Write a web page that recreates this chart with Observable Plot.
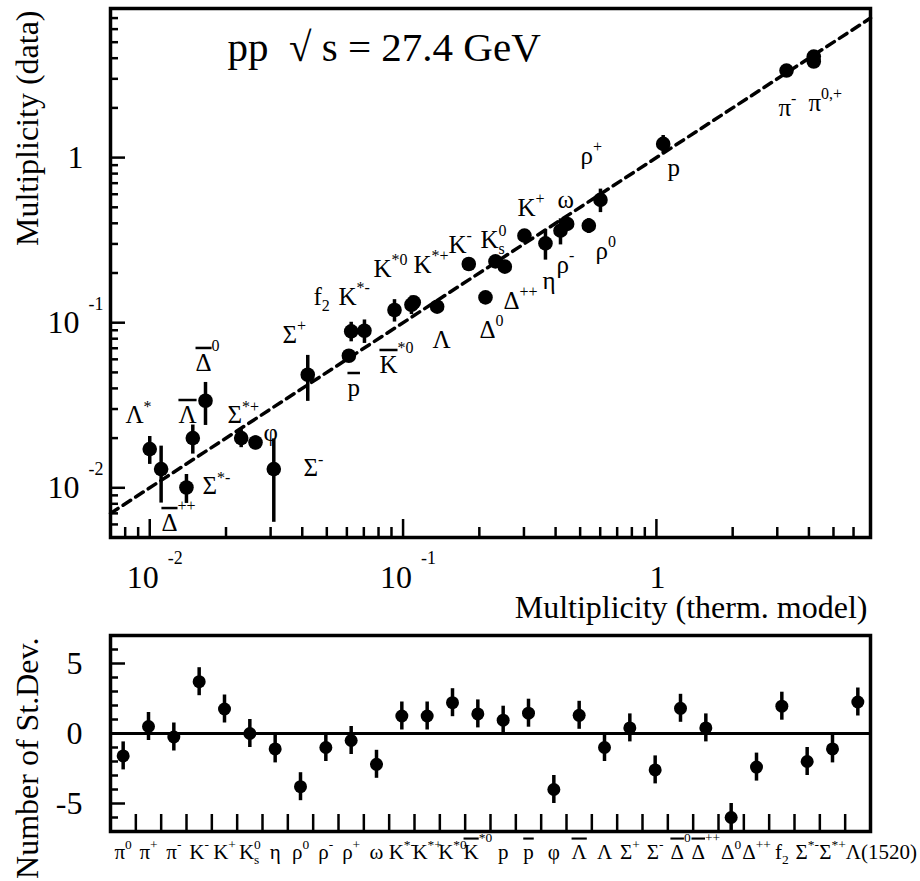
<!DOCTYPE html>
<html><head><meta charset="utf-8">
<script src="https://cdn.jsdelivr.net/npm/d3@7"></script>
<script src="https://cdn.jsdelivr.net/npm/@observablehq/plot@0.6"></script>
<style>
html,body{margin:0;padding:0;background:#fff;overflow:hidden}
#chart{width:920px;height:881px;position:relative}
#chart svg{display:block}
</style></head><body><div id="chart"></div>
<script>
// ---------- data ----------
const categories = ["π^{0}","π^{+}","π^{-}","K^{-}","K^{+}","K^{0}_{s}","η","ρ^{0}","ρ^{-}","ρ^{+}","ω","K^{*-}","K^{*+}","K^{*0}","K\u0304^{*0}","p","p\u0304","φ","Λ\u0304","Λ","Σ^{+}","Σ^{-}","Δ\u0304^{0}","Δ\u0304^{++}","Δ^{0}","Δ^{++}","f_{2}","Σ^{*-}","Σ^{*+}","Λ(1520)"];
const thermal = [4.18,4.18,3.263,0.1817,0.3014,0.2316,0.3648,0.5409,0.4182,0.6014,0.4444,0.0925,0.1079,0.1102,0.0704,1.0636,0.0611,0.02615,0.01479,0.1363,0.04205,0.03088,0.0166,0.01109,0.2115,0.2521,0.0624,0.01396,0.02296,0.0100];
const measured = [3.82,4.09,3.367,0.2268,0.3367,0.2352,0.3023,0.387,0.3609,0.5543,0.3964,0.1194,0.1285,0.1327,0.0894,1.2106,0.0631,0.01881,0.0200,0.125,0.04838,0.01298,0.03366,0.01298,0.1423,0.2185,0.0886,0.01004,0.0200,0.01716];
const measErr = [0.15,0.15,0.2,0.012,0.02,0.01,0.063,0.04,0.065,0.09,0.022,0.0185,0.0165,0.0102,0.0145,0.15,0.0014,0.0018,0.004,0.0113,0.015,0.0068,0.0098,0.0049,0.0115,0.014,0.012,0.002,0.0025,0.0033];
const deviation = [-1.6,0.5,-0.25,3.7,1.75,0,-1.1,-3.8,-1.0,-0.5,-2.2,1.25,1.25,2.2,1.4,0.95,1.45,-4.0,1.3,-1.0,0.4,-2.6,1.8,0.4,-6.0,-2.4,1.95,-2.0,-1.1,2.25];
const devErr = 1;

const labelText = ["Λ^{*}","Δ\u0304^{++}","Σ^{*-}","Λ\u0304","Δ\u0304^{0}","Σ^{*+}","φ","Σ^{-}","Σ^{+}","p\u0304","f_{2}","K^{*-}","K^{*0}","K^{*+}","K\u0304^{*0}","Λ","Δ^{0}","Δ^{++}","η","ρ^{-}","ρ^{0}","K^{-}","K^{0}_{s}","K^{+}","ω","ρ^{+}","p","π^{-}","π^{0,+}"];
const labelX = [0.00802,0.01112,0.01615,0.01298,0.01516,0.02027,0.02812,0.04045,0.03342,0.06032,0.04428,0.05559,0.0764,0.1099,0.08068,0.1306,0.2002,0.2490,0.3550,0.4033,0.5747,0.1511,0.2021,0.2829,0.4069,0.5015,1.106,3.033,3.984];
const labelY = [0.02477,0.00549,0.00919,0.02477,0.05119,0.02477,0.01927,0.01182,0.07563,0.03610,0.1285,0.1285,0.1900,0.2009,0.04977,0.07053,0.08111,0.1216,0.1607,0.2009,0.2443,0.2655,0.2848,0.4452,0.4975,0.9197,0.7777,1.797,1.927];

const xDomain = [0.007, 7];
const yDomain = [0.005, 8];
const powTicks = [0.01, 0.1];
const powLabels = ["10^{-2}", "10^{-1}"];
const oneTick = [1];
const oneLabel = ["1"];
const xMinor = [0.008,0.009,0.02,0.03,0.04,0.05,0.06,0.07,0.08,0.09,0.2,0.3,0.4,0.5,0.6,0.7,0.8,0.9,2,3,4,5,6];
const yMinor = [0.006,0.007,0.008,0.009,0.02,0.03,0.04,0.05,0.06,0.07,0.08,0.09,0.2,0.3,0.4,0.5,0.6,0.7,0.8,0.9,2,3,4,5,6,7];
const devDomain = [-7, 7];
const devMajor = [-5, 0, 5];
const devLabels = ["-5", "0", "5"];
const devMinor = [-6,-4,-3,-2,-1,1,2,3,4,6];

const titleText = "pp\u00a0\u00a0√\u00a0s = 27.4 GeV";
const xTitle = "Multiplicity (therm. model)";
const yTitle = "Multiplicity (data)";
const devTitle = "Number of St.Dev.";

// ---------- drawing ----------
const FONT = "'Liberation Serif', 'Times New Roman', serif";
const idx = d3.range(categories.length);
const nCat = categories.length;
const W = 920, ML = 110, MR = 50;
const FW = W - ML - MR;

const topH = 625, topMT = 8, topMB = 88;
const topFH = topH - topMT - topMB;

const topPlot = Plot.plot({
  width: W, height: topH,
  marginLeft: ML, marginRight: MR, marginTop: topMT, marginBottom: topMB,
  style: {fontFamily: FONT, background: "white", color: "black"},
  x: {type: "log", domain: xDomain, axis: null},
  y: {type: "log", domain: yDomain, axis: null},
  marks: [
    Plot.ruleY(yMinor, {y: d => d, insetRight: FW - 8, strokeWidth: 2.5}),
    Plot.ruleY([0.01, 0.1, 1], {y: d => d, insetRight: FW - 15, strokeWidth: 2.5}),
    Plot.ruleX(xMinor, {x: d => d, insetTop: topFH - 10, strokeWidth: 2.5}),
    Plot.ruleX([0.01, 0.1, 1], {x: d => d, insetTop: topFH - 18, strokeWidth: 2.5}),
    Plot.line(xDomain, {x: d => d, y: d => d, stroke: "black", strokeWidth: 3.5, strokeDasharray: "9,6"}),
    Plot.ruleX(idx, {x: i => thermal[i], y1: i => measured[i] - measErr[i], y2: i => measured[i] + measErr[i], strokeWidth: 3.5}),
    Plot.dot(idx, {x: i => thermal[i], y: i => measured[i], r: 7.3, fill: "black"}),
    Plot.frame({strokeWidth: 3.5}),
    Plot.text(labelText, {x: (d, i) => labelX[i], y: (d, i) => labelY[i], text: d => d, textAnchor: "start", lineAnchor: "bottom", fontSize: 25, fontFamily: FONT}),
    Plot.text(powTicks, {x: d => d, text: (d, i) => powLabels[i], frameAnchor: "bottom", dy: 50, lineAnchor: "bottom", fontSize: 32, fontFamily: FONT, dx: 5}),
    Plot.text(oneTick, {x: d => d, text: (d, i) => oneLabel[i], frameAnchor: "bottom", dy: 50, lineAnchor: "bottom", fontSize: 32, fontFamily: FONT, dx: 1}),
    Plot.text(powTicks, {y: d => d, text: (d, i) => powLabels[i], frameAnchor: "left", textAnchor: "end", dx: -7, fontSize: 32, fontFamily: FONT}),
    Plot.text(oneTick, {y: d => d, text: (d, i) => oneLabel[i], frameAnchor: "left", textAnchor: "end", dx: -27, fontSize: 32, fontFamily: FONT}),
    Plot.text([xTitle], {text: d => d, frameAnchor: "bottom-right", textAnchor: "end", lineAnchor: "bottom", dy: 80, dx: -3, fontSize: 32, fontFamily: FONT}),
    Plot.text([yTitle], {text: d => d, frameAnchor: "top-left", rotate: -90, textAnchor: "end", lineAnchor: "bottom", dx: 37 - ML, dy: 2, fontSize: 32, fontFamily: FONT}),
    Plot.text([titleText], {text: d => d, frameAnchor: "top-left", textAnchor: "start", lineAnchor: "bottom", dx: 117, dy: 52, fontSize: 41, fontFamily: FONT})
  ]
});

const botH = 256, botMT = 10, botMB = 50;
const botFH = botH - botMT - botMB;

const botPlot = Plot.plot({
  width: W, height: botH,
  marginLeft: ML, marginRight: MR, marginTop: botMT, marginBottom: botMB,
  style: {fontFamily: FONT, background: "white", color: "black"},
  x: {domain: [0, nCat], axis: null},
  y: {domain: devDomain, axis: null},
  marks: [
    Plot.ruleY(devMinor, {y: d => d, insetRight: FW - 8, strokeWidth: 2.5}),
    Plot.ruleY(devMajor, {y: d => d, insetRight: FW - 15, strokeWidth: 2.5}),
    Plot.ruleX(d3.range(1, nCat), {x: d => d, insetTop: botFH - 17, strokeWidth: 2.5}),
    Plot.ruleY([0], {strokeWidth: 3}),
    Plot.ruleX(idx, {x: i => i + 0.5, y1: i => deviation[i] - devErr, y2: i => deviation[i] + devErr, strokeWidth: 3.5}),
    Plot.dot(idx, {x: i => i + 0.5, y: i => deviation[i], r: 6.5, fill: "black"}),
    Plot.frame({strokeWidth: 3.5}),
    Plot.text(devMajor, {y: d => d, text: (d, i) => devLabels[i], frameAnchor: "left", textAnchor: "end", dx: -28, fontSize: 32, fontFamily: FONT}),
    Plot.text(categories, {filter: (d, i) => i < nCat - 1, x: (d, i) => i + 0.5, text: d => d, frameAnchor: "bottom", dy: 27, lineAnchor: "bottom", fontSize: 21, fontFamily: FONT}),
    Plot.text(categories, {filter: (d, i) => i === nCat - 1, x: (d, i) => i + 0.5, text: d => d, frameAnchor: "bottom", dy: 27, dx: -12, textAnchor: "start", lineAnchor: "bottom", fontSize: 21, fontFamily: FONT}),
    Plot.text([devTitle], {text: d => d, frameAnchor: "top-left", rotate: -90, textAnchor: "end", lineAnchor: "bottom", dx: 37 - ML, dy: 2, fontSize: 32, fontFamily: FONT})
  ]
});

const chart = document.getElementById("chart");
chart.appendChild(topPlot);
chart.appendChild(botPlot);

// rich text: ^{sup}, _{sub}, X\u0304 -> overlined X
function richify(root) {
  const NS = "http://www.w3.org/2000/svg";
  root.querySelectorAll("text").forEach(t => {
    const s = t.textContent;
    if (!/[\^_]\{|\u0304/.test(s)) return;
    const fs = parseFloat(getComputedStyle(t).fontSize);
    const big = fs >= 30;
    const ratio = big ? 0.56 : 0.64;
    const segs = [];
    let buf = "", i = 0;
    const flush = () => { if (buf) { segs.push({t: buf, m: "n"}); buf = ""; } };
    while (i < s.length) {
      if ((s[i] === "^" || s[i] === "_") && s[i + 1] === "{") {
        flush();
        const j = s.indexOf("}", i);
        segs.push({t: s.slice(i + 2, j), m: s[i] === "^" ? "sup" : "sub"});
        i = j + 1;
      } else if (s[i + 1] === "\u0304") {
        flush();
        segs.push({t: s[i], m: "n", bar: true});
        i += 2;
      } else { buf += s[i++]; }
    }
    flush();
    while (t.firstChild) t.removeChild(t.firstChild);
    let cur = 0, prev = null, prevBar = false;
    for (const g of segs) {
      const ts = document.createElementNS(NS, "tspan");
      let target = 0;
      if (g.m === "sup") target = -(big ? 0.72 : (prevBar ? 0.78 : 0.45)) * fs;
      if (g.m === "sub") target = 0.25 * fs;
      ts.setAttribute("dy", (target - cur).toFixed(2));
      cur = target;
      if (g.m !== "n") ts.setAttribute("font-size", (ratio * fs).toFixed(2));
      if (g.m === "sup" && big) ts.setAttribute("dx", (0.28 * fs).toFixed(1));
      if (g.bar) ts.setAttribute("style", "text-decoration: overline");
      ts.textContent = g.t;
      t.appendChild(ts);
      if (g.m === "sub" && prev && prev.m === "sup") ts.setAttribute("dx", (-prev.el.getComputedTextLength()).toFixed(2));
      prev = {m: g.m, el: ts};
      if (g.m === "n") prevBar = !!g.bar;
    }
  });
}
richify(chart);
</script></body></html>
